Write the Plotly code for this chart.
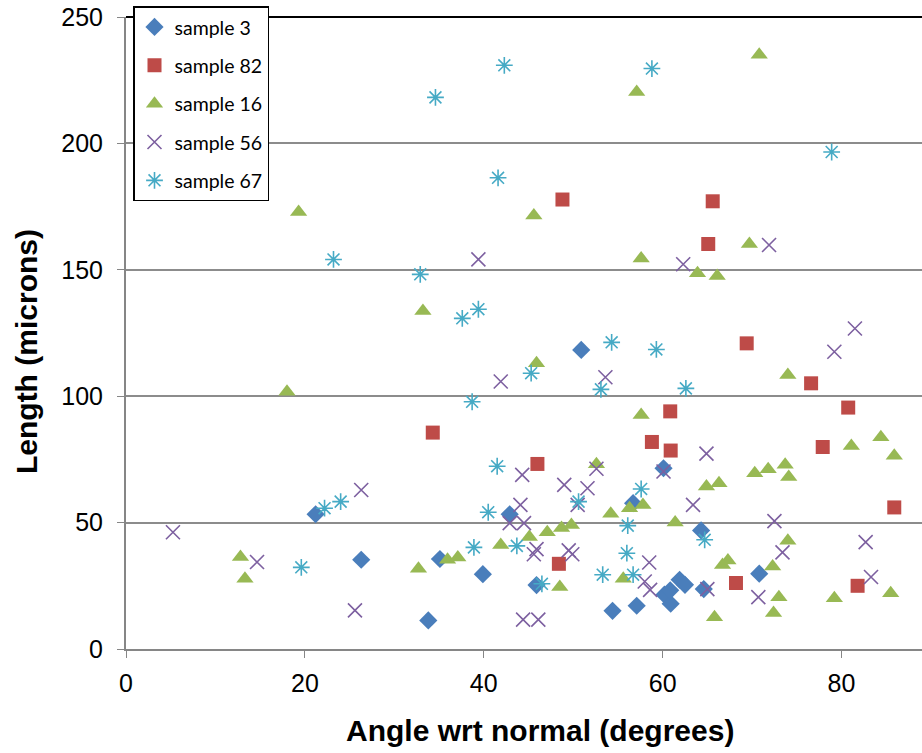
import plotly.graph_objects as go

# ---- data ----
s3_x = [21.2, 26.3, 33.8, 35.1, 39.9, 42.9, 45.9, 50.9, 54.4, 56.7, 57.1, 60.1, 60.2, 60.9, 60.85, 61.9, 62.5, 64.3, 64.6, 70.8]
s3_y = [53.3, 35.3, 11.3, 35.6, 29.6, 53.3, 25.3, 118.3, 15.1, 57.7, 17.1, 71.5, 21.5, 17.9, 23.2, 27.4, 25.4, 46.9, 23.7, 29.8]

s82_x = [34.3, 46.0, 48.4, 48.8, 58.8, 60.85, 60.9, 65.1, 65.6, 68.2, 69.4, 76.6, 77.9, 80.75, 81.8, 85.9]
s82_y = [85.6, 73.2, 33.7, 177.8, 81.9, 94.0, 78.5, 160.2, 177.1, 26.1, 120.9, 105.1, 79.9, 95.5, 25.0, 56.0]

s16_x = [12.8, 13.3, 18.0, 19.3, 32.7, 33.2, 35.95, 37.1, 41.9, 45.1, 45.6, 45.9, 47.1, 48.7, 48.5, 49.8,
         52.6, 54.2, 55.6, 56.3, 57.1, 57.6, 57.6, 57.8, 61.4, 63.9, 64.9, 65.8, 66.1, 66.3, 66.7, 67.3,
         69.7, 70.3, 70.8, 71.8, 72.3, 72.4, 73.0, 73.7, 74.0, 74.1, 74.0, 79.2, 81.1, 84.4, 85.5, 85.9]
s16_y = [36.4, 27.8, 101.8, 172.9, 31.7, 133.7, 35.3, 36.2, 41.1, 44.3, 171.5, 113.0, 46.2, 47.9, 24.5, 49.1,
         73.1, 53.5, 27.8, 55.7, 220.3, 92.6, 154.5, 57.0, 50.0, 148.6, 64.3, 12.6, 147.5, 65.6, 33.2, 35.0,
         160.2, 69.5, 235.1, 71.1, 32.6, 14.2, 20.5, 72.9, 42.8, 68.0, 108.4, 20.1, 80.3, 83.8, 22.1, 76.4]

s56_x = [5.25, 14.65, 25.6, 26.3, 39.4, 41.9, 42.9, 44.1, 44.3, 44.4, 44.5, 45.6, 45.9, 46.1, 49.0, 49.5,
         49.9, 50.5, 51.6, 52.6, 53.6, 58.0, 58.5, 58.6, 60.1, 62.3, 63.4, 64.9, 65.0, 70.7, 71.9, 72.5,
         73.4, 79.2, 81.5, 82.7, 83.3]
s56_y = [46.2, 34.4, 15.3, 62.9, 154.1, 105.8, 49.8, 57.0, 68.9, 11.6, 49.8, 37.5, 39.5, 11.6, 64.9, 39.0,
         37.5, 57.0, 63.6, 71.3, 107.5, 26.7, 34.2, 23.4, 70.2, 152.2, 57.0, 77.3, 23.7, 20.5, 159.8, 50.6,
         38.2, 117.6, 126.8, 42.3, 28.5]

s67_x = [19.6, 22.2, 23.2, 24.0, 32.9, 34.6, 37.6, 38.7, 38.9, 39.4, 40.5, 41.5, 41.6, 42.3, 43.7, 45.3,
         46.5, 50.6, 53.1, 53.3, 54.3, 56.0, 56.1, 56.7, 57.6, 58.8, 59.3, 62.6, 64.7, 78.9]
s67_y = [32.3, 55.7, 154.1, 58.3, 148.2, 218.2, 130.8, 97.8, 40.2, 134.4, 54.1, 72.3, 186.4, 230.9, 40.8, 109.1,
         25.8, 58.3, 102.7, 29.4, 121.3, 37.9, 48.8, 29.4, 63.3, 229.6, 118.5, 103.1, 43.2, 196.6]

x_ticks = [0, 20, 40, 60, 80]
y_ticks = [0, 50, 100, 150, 200, 250]
x_title = "Angle wrt normal (degrees)"
y_title = "Length (microns)"

FONT = "Liberation Sans, Arial, sans-serif"
LEG_FONT = "Lato, Liberation Sans, sans-serif"

series = [
    ("sample 3", s3_x, s3_y, dict(symbol="diamond", size=14, color="#4A7EBB")),
    ("sample 82", s82_x, s82_y, dict(symbol="square", size=14, color="#BE4B48")),
    ("sample 16", s16_x, s16_y, dict(symbol="triangle-up", size=15, color="#98B954")),
    ("sample 56", s56_x, s56_y, dict(symbol="x-thin-open", size=14, color="#7D60A0",
                                     line=dict(color="#7D60A0", width=1.6))),
    ("sample 67", s67_x, s67_y, dict(symbol="asterisk-open", size=14, color="#46AAC5",
                                     line=dict(color="#46AAC5", width=1.6))),
]

fig = go.Figure()
for name, xs, ys, mk in series:
    fig.add_trace(go.Scatter(x=xs, y=ys, mode="markers", name=name, marker=mk,
                             legendgroup=name))

fig.update_layout(
    width=922, height=753,
    margin=dict(l=126, r=0, t=17, b=104),
    paper_bgcolor="white", plot_bgcolor="white",
    font=dict(family=FONT, color="black"),
    showlegend=True,
    legend=dict(x=(133 - 126) / 796, y=1.017, xanchor="left", yanchor="top",
                bgcolor="white", bordercolor="black", borderwidth=1.5,
                font=dict(family=LEG_FONT, size=19.5, color="black"),
                tracegroupgap=10, itemsizing="trace", itemwidth=30),
)

fig.update_xaxes(
    range=[0, 89.0], tickvals=x_ticks, ticks="outside", ticklen=7, tickcolor="#868686",
    showline=True, linecolor="#868686", linewidth=2, showgrid=False, zeroline=False,
    tickfont=dict(family=FONT, size=25, color="black"), ticklabelstandoff=4,
)
fig.update_yaxes(
    range=[0, 250], tickvals=y_ticks, ticks="outside", ticklen=7, tickcolor="#868686",
    showline=True, linecolor="#868686", linewidth=2, showgrid=True, gridcolor="#8C8C8C", gridwidth=1.5,
    zeroline=False,
    tickfont=dict(family=FONT, size=25, color="black"), ticklabelstandoff=9,
)

# axis titles
fig.add_annotation(text="<b>%s</b>" % x_title, xref="paper", yref="paper",
                   x=(540 - 126) / 796, y=(649.3 - 731) / 632.7, xanchor="center", yanchor="middle",
                   showarrow=False, font=dict(family=FONT, size=30, color="black"))
fig.add_annotation(text="<b>%s</b>" % y_title, xref="paper", yref="paper",
                   x=(26 - 126) / 796, y=(649.3 - 352) / 632.7, xanchor="center", yanchor="middle",
                   textangle=-90, showarrow=False, font=dict(family=FONT, size=30, color="black"))

# darker top border of the plot area
fig.add_shape(type="line", xref="paper", yref="paper", x0=0, x1=1, y0=1, y1=1,
              line=dict(color="black", width=2))

fig.write_html("out.html")
